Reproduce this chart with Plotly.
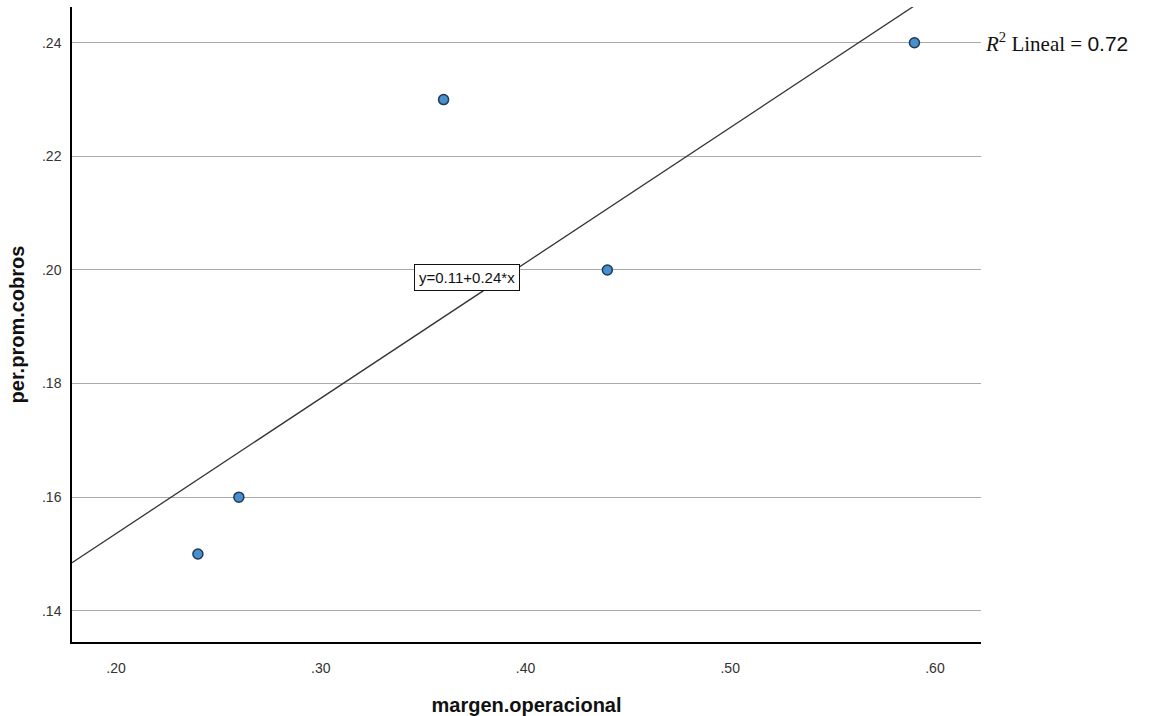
import numpy as np
import plotly.graph_objects as go

margen_operacional = [0.24, 0.26, 0.36, 0.44, 0.59]
per_prom_cobros = [0.15, 0.16, 0.23, 0.20, 0.24]
x_ticks = [0.20, 0.30, 0.40, 0.50, 0.60]
x_tick_labels = [".20", ".30", ".40", ".50", ".60"]
y_ticks = [0.14, 0.16, 0.18, 0.20, 0.22, 0.24]
y_tick_labels = [".14", ".16", ".18", ".20", ".22", ".24"]
r2_label = "0.72"
equation_label = "y=0.11+0.24*x"

x_range = [0.1785, 0.6225]
y_range = [0.1345, 0.2463]

slope, intercept = np.polyfit(margen_operacional, per_prom_cobros, 1)

TICKFONT = "Liberation Sans Narrow, Liberation Sans, Arial"

fig = go.Figure()
lx = np.array(x_range)
fig.add_trace(go.Scatter(x=lx, y=intercept + slope * lx, mode="lines",
                         line=dict(color="#333333", width=1.3), hoverinfo="skip",
                         showlegend=False))
fig.add_trace(go.Scatter(x=margen_operacional, y=per_prom_cobros, mode="markers",
                         marker=dict(size=10, color="#4a8fcc",
                                     line=dict(color="#1d3a5a", width=1.5)),
                         showlegend=False))

fig.add_annotation(x=0.3715, y=0.1987, xref="x", yref="y",
                   text=equation_label, showarrow=False,
                   font=dict(family=TICKFONT, size=15, color="#111111"),
                   bgcolor="white", bordercolor="#111111", borderwidth=1, borderpad=4)
fig.add_annotation(x=1.0, y=0.24, xref="paper", yref="y", xanchor="left", xshift=2,
                   text=f"<i>R</i><sup>2</sup> Lineal = <span style='font-family:Liberation Sans'>{r2_label}</span>",
                   showarrow=False,
                   font=dict(family="Liberation Serif", size=21, color="#111111"))

fig.update_layout(
    width=1155, height=716,
    margin=dict(l=72, r=174, t=7, b=74),
    paper_bgcolor="white", plot_bgcolor="white",
    xaxis=dict(range=x_range, tickvals=x_ticks, ticktext=x_tick_labels,
               showgrid=False, zeroline=False, showline=True, linecolor="black",
               linewidth=1.5, ticks="", ticklabelstandoff=12, automargin=False,
               tickfont=dict(family=TICKFONT, size=14, color="#333333"),
               title=dict(text="<b>margen.operacional</b>", standoff=26,
                          font=dict(family="Liberation Sans", size=20, color="#111111"))),
    yaxis=dict(range=y_range, tickvals=y_ticks, ticktext=y_tick_labels,
               showgrid=True, gridcolor="#aaaaaa", gridwidth=1, zeroline=False,
               showline=True, linecolor="black", linewidth=1.5, ticks="",
               ticklabelstandoff=6, automargin=False,
               tickfont=dict(family=TICKFONT, size=14, color="#333333"),
               title=dict(text="<b>per.prom.cobros</b>", standoff=12,
                          font=dict(family="Liberation Sans", size=20, color="#111111"))),
)

fig.write_html("out.html")
